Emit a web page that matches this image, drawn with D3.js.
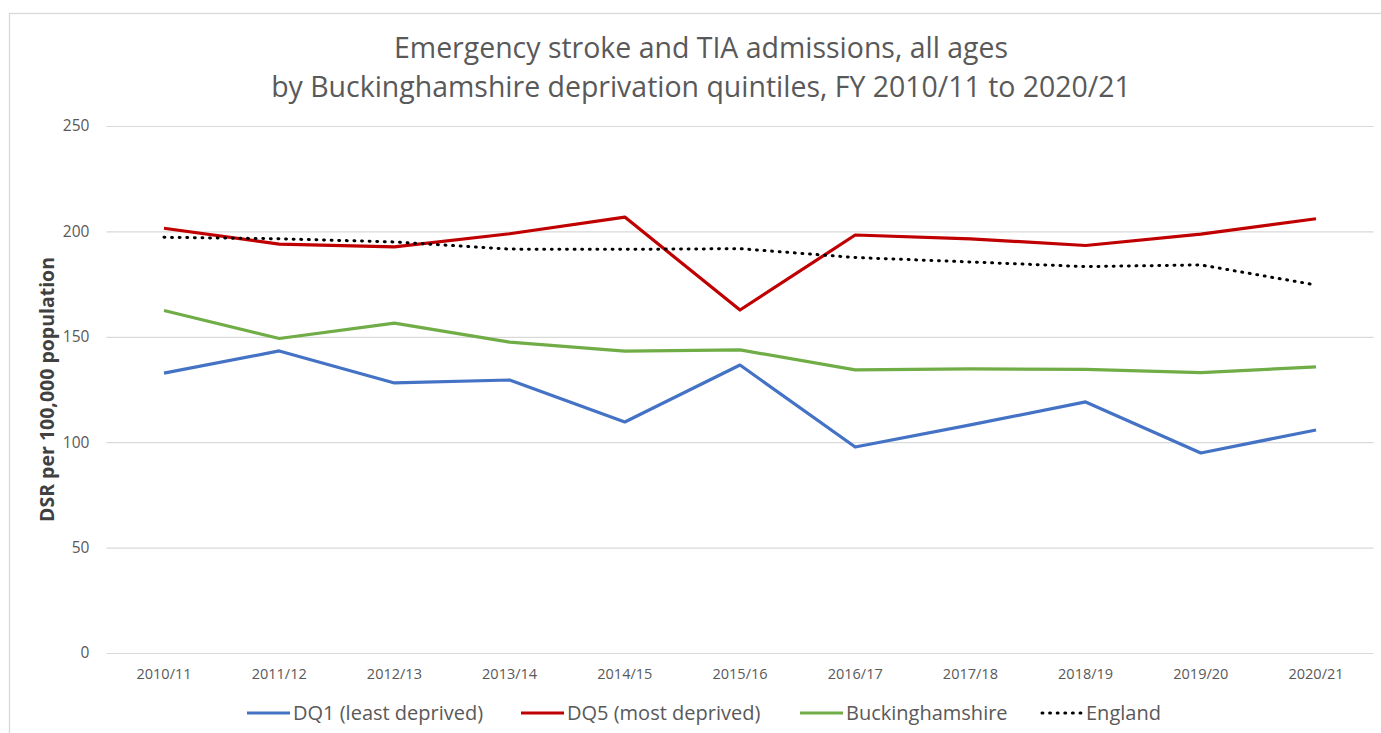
<!DOCTYPE html>
<html><head><meta charset="utf-8">
<script src="https://cdn.jsdelivr.net/npm/d3@7"></script>
<style>body{margin:0;background:#fff}svg{display:block}text{font-family:"Open Sans","Liberation Sans",sans-serif}</style>
</head><body><svg id="c" width="1381" height="733"></svg>
<script>
const categories = ["2010/11","2011/12","2012/13","2013/14","2014/15","2015/16","2016/17","2017/18","2018/19","2019/20","2020/21"];
const dq1 = [132.8,143.3,128.1,129.5,109.6,136.6,97.7,108.2,119.1,94.9,105.8];
const dq5 = [201.5,194.0,192.7,198.9,206.8,162.7,198.3,196.5,193.3,198.7,206.0];
const bucks = [162.5,149.2,156.5,147.5,143.2,143.8,134.3,134.8,134.5,133.0,135.7];
const england = [197.2,196.5,195.0,191.6,191.5,191.8,187.6,185.5,183.3,184.1,174.6];
const yTicks = [0,50,100,150,200,250];
const seriesNames = ["DQ1 (least deprived)","DQ5 (most deprived)","Buckinghamshire","England"];
const titleLines = ["Emergency stroke and TIA admissions, all ages","by Buckinghamshire deprivation quintiles, FY 2010/11 to 2020/21"];
const yTitle = "DSR per 100,000 population";

const series = [
  {name: seriesNames[0], values: dq1, color: "#4472c4", dash: null},
  {name: seriesNames[1], values: dq5, color: "#c00000", dash: null},
  {name: seriesNames[2], values: bucks, color: "#70ad47", dash: null},
  {name: seriesNames[3], values: england, color: "#000000", dash: "0.9,6.7"}
];

const svg = d3.select("#c");
svg.append("rect").attr("x",9.5).attr("y",13.5).attr("width",1400).attr("height",760)
  .attr("fill","none").attr("stroke","#d9d9d9").attr("stroke-width",1.3);

const L = 106.4, R = 1373.6, T = 126, B = 653;
const x = d3.scaleBand().domain(categories).range([L,R]);
const y = d3.scaleLinear().domain([0,250]).range([B,T]);

// title (font size fitted to the reference line widths)
const tt = svg.append("g").selectAll("text").data(titleLines).join("text")
  .attr("x",701).attr("y",(d,i)=>58+i*39).attr("text-anchor","middle")
  .attr("font-size",28).attr("fill","#595959").text(d=>d);
let fs = 28 * 860 / tt.nodes()[1].getComputedTextLength();
tt.attr("font-size", fs);

// grid
const yAxis = d3.axisLeft(y).tickValues(yTicks).tickSize(-(R-L)).tickPadding(17);
const gy = svg.append("g").attr("transform",`translate(${L},0)`).call(yAxis);
gy.select(".domain").remove();
gy.selectAll(".tick line").attr("stroke","#d9d9d9").attr("stroke-width",1.2);
gy.selectAll(".tick text").attr("font-size",15.5).attr("fill","#595959").attr("font-family","Open Sans, sans-serif");

const xAxis = d3.axisBottom(x).tickSize(0).tickPadding(16);
const gx = svg.append("g").attr("transform",`translate(0,${B})`).call(xAxis);
gx.select(".domain").remove();
gx.selectAll(".tick text").attr("font-size",14.5).attr("fill","#595959").attr("font-family","Open Sans, sans-serif");

svg.append("text").attr("transform",`translate(53.5,${(T+B)/2}) rotate(-90)`)
  .attr("text-anchor","middle").attr("font-size",19.5).attr("font-weight","bold")
  .attr("fill","#404040").text(yTitle);

const line = d3.line().x((d,i)=>x(categories[i])+x.bandwidth()/2).y(d=>y(d));
series.forEach(s=>{
  svg.append("path").datum(s.values).attr("d",line).attr("fill","none")
    .attr("stroke",s.color).attr("stroke-width",s.dash?3:3.2)
    .attr("stroke-linecap",s.dash?"round":"butt").attr("stroke-linejoin","round")
    .attr("stroke-dasharray",s.dash);
});

// legend
const legX = [247,521,800,1040];
const lg = svg.append("g");
series.forEach((s,i)=>{
  lg.append("line").attr("x1",legX[i]+(s.dash?2:0)).attr("x2",legX[i]+43).attr("y1",713).attr("y2",713)
    .attr("stroke",s.color).attr("stroke-width",s.dash?3:3.2)
    .attr("stroke-linecap",s.dash?"round":"butt").attr("stroke-dasharray",s.dash);
  lg.append("text").attr("x",legX[i]+46).attr("y",720).attr("font-size",20)
    .attr("fill","#595959").text(s.name);
});
</script></body></html>
